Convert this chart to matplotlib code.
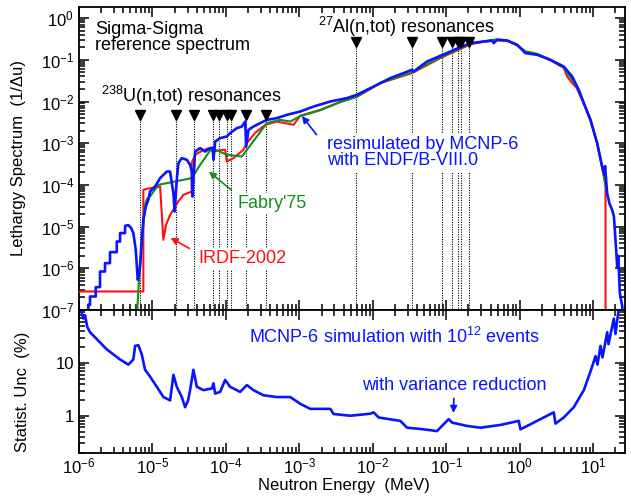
import numpy as np
import matplotlib
matplotlib.use('Agg')
import matplotlib.pyplot as plt
from matplotlib.ticker import LogLocator, FixedLocator, FixedFormatter, NullFormatter, LogFormatterSciNotation

plt.rcParams['font.family'] = ['Liberation Sans', 'DejaVu Sans']
plt.rcParams['mathtext.fontset'] = 'custom'
plt.rcParams['mathtext.rm'] = 'Liberation Sans'
plt.rcParams['mathtext.it'] = 'Liberation Sans:italic'
plt.rcParams['mathtext.default'] = 'regular'

# data, log10(E/MeV) and log10(value)
mcnp_logE = [-6.000, -5.946, -5.873, -5.873, -5.850, -5.850, -5.772, -5.772, -5.714, -5.714,
             -5.646, -5.646, -5.578, -5.578, -5.486, -5.486, -5.441, -5.441, -5.373, -5.373,
             -5.328, -5.292, -5.260, -5.228, -5.200, -5.183, -5.169, -5.146, -5.124, -5.091,
             -5.056, -5.033, -4.965, -4.896, -4.805, -4.760, -4.737, -4.715, -4.699, -4.669,
             -4.647, -4.601, -4.533, -4.488, -4.465, -4.456, -4.429, -4.420, -4.351, -4.283,
             -4.215, -4.182, -4.170, -4.147, -4.079, -3.988, -3.943, -3.851, -3.783, -3.738,
             -3.725, -3.693, -3.625, -3.534, -3.443, -3.307, -3.170, -2.989, -2.808, -2.580,
             -2.353, -2.217, -1.990, -1.763, -1.467, -1.446, -1.263, -1.082, -0.854, -0.673,
             -0.492, -0.378, -0.356, -0.309, -0.173, -0.037, 0.076, 0.236, 0.417, 0.598,
             0.712, 0.802, 0.871, 0.962, 1.053, 1.120, 1.150, 1.160, 1.188, 1.220,
             1.256, 1.280, 1.302, 1.325, 1.340, 1.361, 1.394, 1.411]
mcnp_logV = [-7.14, -7.04, -7.04, -6.875, -6.875, -6.676, -6.676, -6.451, -6.451, -6.077,
             -6.077, -5.875, -5.875, -5.612, -5.612, -5.357, -5.357, -5.156, -5.156, -4.981,
             -4.964, -5.03, -5.156, -5.556, -6.276, -6.155, -5.957, -5.317, -4.837, -4.518,
             -4.357, -4.158, -4.038, -3.837, -3.679, -3.679, -3.957, -4.197, -4.638, -3.878,
             -3.477, -3.357, -3.398, -3.518, -3.679, -4.278, -3.477, -3.199, -3.118, -3.199,
             -3.118, -3.110, -3.398, -2.959, -2.878, -2.839, -2.758, -2.638, -2.599, -2.480,
             -3.079, -2.679, -2.599, -2.518, -2.439, -2.398, -2.319, -2.240, -2.120, -2.000,
             -1.918, -1.839, -1.640, -1.439, -1.240, -1.281, -1.041, -0.904, -0.731, -0.600,
             -0.561, -0.537, -0.600, -0.520, -0.537, -0.640, -0.839, -0.880, -1.000, -1.161,
             -1.400, -1.719, -2.038, -2.439, -2.998, -3.559, -3.75, -3.55, -4.197, -4.45,
             -4.597, -4.75, -5.317, -5.957, -5.70, -6.595, -6.916, -7.19]

irdf_logE = [-6.000, -5.124, -5.124, -5.078, -4.896, -4.852, -4.815, -4.760, -4.715, -4.651,
             -4.579, -4.465, -4.465, -4.420, -4.351, -4.238, -4.170, -4.034, -4.011, -3.988,
             -3.898, -3.762, -3.717, -3.602, -3.466, -3.307, -3.080, -2.989, -2.717, -2.444,
             -2.217, -1.899, -1.467, -1.082, -0.854, -0.673, -0.492, -0.309, -0.173,
             -0.037, 0.076, 0.236, 0.417, 0.598, 0.644, 0.712, 0.771, 0.871, 0.962,
             1.053, 1.120, 1.166, 1.166]
irdf_logV = [-6.556, -6.556, -4.118, -4.094, -4.038, -5.317, -4.957, -4.717, -4.597, -4.405,
             -4.237, -4.158, -3.470, -3.278, -3.206, -3.118, -3.199, -3.158, -3.158, -3.439,
             -3.357, -3.158, -2.998, -2.751, -2.559, -2.480, -2.559, -2.340, -2.200, -2.007,
             -1.887, -1.559, -1.319, -0.959, -0.777, -0.628, -0.568, -0.532, -0.544,
             -0.652, -0.808, -0.868, -1.012, -1.192, -1.400, -1.559, -1.671, -2.055, -2.463,
             -3.014, -3.590, -3.998, -7.5]

fabry_logE = [-5.214, -5.192, -5.169, -5.146, -5.124, -5.101, -5.074, -5.033, -4.920, -4.692,
              -4.465, -4.351, -4.192, -3.988, -3.783, -3.443, -3.262, -3.125, -2.989, -2.717,
              -2.444, -2.217, -1.899, -1.467, -1.082, -0.854, -0.673, -0.492, -0.309, -0.173,
              -0.037, 0.076, 0.236, 0.417, 0.598, 0.649, 0.712, 0.771, 0.871, 0.962,
              1.053, 1.120, 1.178]
fabry_logV = [-7.23, -6.516, -5.916, -5.477, -4.957, -4.477, -4.333, -4.278, -3.998, -3.918,
              -3.837, -3.518, -3.118, -3.278, -3.319, -2.518, -2.439, -2.480, -2.350, -2.210,
              -2.015, -1.880, -1.552, -1.300, -0.940, -0.760, -0.616, -0.556, -0.508, -0.532,
              -0.640, -0.796, -0.856, -1.000, -1.192, -1.312, -1.480, -1.624, -2.043, -2.451,
              -3.002, -3.566, -4.117]

unc_logE = [-5.986, -5.973, -5.941, -5.918, -5.887, -5.850, -5.782, -5.714, -5.623, -5.533,
            -5.441, -5.328, -5.260, -5.237, -5.192, -5.146, -5.101, -5.033, -4.941, -4.851,
            -4.760, -4.715, -4.669, -4.601, -4.556, -4.515, -4.488, -4.443, -4.396, -4.307,
            -4.192, -4.170, -4.147, -4.079, -4.011, -3.943, -3.807, -3.715, -3.625, -3.489,
            -3.307, -3.125, -2.989, -2.853, -2.580, -2.535, -2.308, -2.035, -1.990, -1.922,
            -1.627, -1.535, -1.309, -1.127, -1.037, -0.969, -0.922, -0.718, -0.537, -0.264,
            -0.015, 0.008, 0.099, 0.281, 0.462, 0.485, 0.598, 0.734, 0.871, 0.962,
            1.030, 1.057, 1.098, 1.125, 1.189, 1.207, 1.279, 1.302, 1.347, 1.370]
unc_logU = [2.128, 1.998, 1.838, 1.901, 1.677, 1.580, 1.484, 1.387, 1.257, 1.161,
            1.064, 0.967, 1.064, 1.321, 1.335, 1.161, 0.870, 0.741, 0.547, 0.354,
            0.290, 0.774, 0.547, 0.354, 0.161, 0.290, 0.484, 0.870, 0.547, 0.484,
            0.516, 0.613, 0.420, 0.451, 0.677, 0.547, 0.451, 0.580, 0.484, 0.387,
            0.354, 0.354, 0.226, 0.130, 0.130, 0.033, 0.000, 0.039, 0.064, -0.033,
            -0.097, -0.226, -0.257, -0.290, -0.161, -0.064, -0.130, -0.193, -0.226, -0.174,
            -0.097, -0.257, -0.193, -0.064, 0.064, -0.149, -0.033, 0.161, 0.484, 0.838,
            1.128, 0.967, 1.321, 1.103, 1.580, 1.354, 1.838, 1.547, 2.031, 2.13]

u238_res = [6.67e-6, 2.09e-5, 3.67e-5, 6.6e-5, 8.07e-5, 1.025e-4, 1.169e-4, 1.897e-4, 3.478e-4]
al27_res = [5.9e-3, 3.45e-2, 8.8e-2, 0.120, 0.143, 0.158, 0.206]
u238_mark = 4.8e-3
al27_mark = 0.265

x_major = [1e-6, 1e-5, 1e-4, 1e-3, 1e-2, 1e-1, 1e0, 1e1]
y_major = [1e-7, 1e-6, 1e-5, 1e-4, 1e-3, 1e-2, 1e-1, 1e0]

E_mcnp = 10 ** np.array(mcnp_logE)
V_mcnp = 10 ** np.array(mcnp_logV)
E_irdf = 10 ** np.array(irdf_logE)
V_irdf = 10 ** np.array(irdf_logV)
E_fab = 10 ** np.array(fabry_logE)
V_fab = 10 ** np.array(fabry_logV)
E_unc = 10 ** np.array(unc_logE)
U_unc = 10 ** np.array(unc_logU)

blue = '#0a14ff'
red = '#ff1010'
green = '#10901a'

fig = plt.figure(figsize=(6.31, 4.96), dpi=100)
ax1 = fig.add_axes([0.1252, 0.375, 0.8653, 0.6109])
ax2 = fig.add_axes([0.1252, 0.0873, 0.8653, 0.2877], sharex=ax1)

# resonance markers
for e in u238_res:
    ax1.plot([e, e], [1e-8, u238_mark], ls=(0, (1, 1.2)), color='k', lw=0.8, zorder=1)
ax1.plot(u238_res, [u238_mark] * len(u238_res), 'v', color='k', ms=6.5, zorder=5)
for e in al27_res:
    ax1.plot([e, e], [1e-8, al27_mark], ls=(0, (1, 1.2)), color='k', lw=0.8, zorder=1)
ax1.plot(al27_res, [al27_mark] * len(al27_res), 'v', color='k', ms=6.5, zorder=5)

ax1.plot(E_irdf, V_irdf, color=red, lw=1.5, zorder=3)
ax1.plot(E_fab, V_fab, color=green, lw=1.5, zorder=3)
ax1.plot(E_mcnp, V_mcnp, color=blue, lw=1.9, zorder=4)

ax1.set_xscale('log')
ax1.set_yscale('log')
ax1.set_xlim(1e-6, 27)
ax1.set_ylim(1e-7, 1.85)
ax1.set_ylabel('Lethargy Spectrum  (1/\u0394u)', fontsize=12)
ax1.yaxis.set_label_coords(-0.097, 0.5)

bb = dict(facecolor='white', edgecolor='none', pad=1.5)
ax1.text(0.029, 0.955, 'Sigma-Sigma\nreference spectrum', transform=ax1.transAxes,
         fontsize=13, va='top', linespacing=0.95)
ax1.text(0.040, 0.687, '$^{238}$U(n,tot) resonances', transform=ax1.transAxes, fontsize=13)
ax1.text(0.438, 0.913, '$^{27}$Al(n,tot) resonances', transform=ax1.transAxes, fontsize=13)
ax1.text(0.454, 0.574, 'resimulated by MCNP-6\nwith ENDF/B-VIII.0', transform=ax1.transAxes,
         fontsize=13, va='top', color=blue, linespacing=0.95, bbox=bb, zorder=6)
ax1.text(0.291, 0.336, "Fabry'75", transform=ax1.transAxes, fontsize=13, color=green,
         bbox=bb, zorder=6)
ax1.text(0.219, 0.154, 'IRDF-2002', transform=ax1.transAxes, fontsize=13, color=red,
         bbox=bb, zorder=6)

ax1.annotate('', xy=(10**-2.989, 10**-2.295), xytext=(10**-2.744, 10**-2.847),
             arrowprops=dict(arrowstyle='-|>', color=blue, lw=1.2, mutation_scale=10), zorder=7)
ax1.annotate('', xy=(10**-4.261, 10**-3.638), xytext=(10**-3.902, 10**-4.158),
             arrowprops=dict(arrowstyle='-|>', color=green, lw=1.2, mutation_scale=10), zorder=7)
ax1.annotate('', xy=(10**-4.787, 10**-5.237), xytext=(10**-4.465, 10**-5.556),
             arrowprops=dict(arrowstyle='-|>', color=red, lw=1.2, mutation_scale=10), zorder=7)

# lower panel
ax2.plot(E_unc, U_unc, color=blue, lw=1.9)
ax2.set_yscale('log')
ax2.set_ylim(0.2, 100)
ax2.yaxis.set_major_locator(FixedLocator([1, 10]))
ax2.yaxis.set_major_formatter(FixedFormatter(['1', '10']))
ax2.yaxis.set_minor_locator(LogLocator(base=10, subs=np.arange(2, 10)))
ax2.yaxis.set_minor_formatter(NullFormatter())
ax2.set_ylabel('Statist. Unc  (%)', fontsize=12)
ax2.yaxis.set_label_coords(-0.090, 0.43)
ax2.set_xlabel('Neutron Energy  (MeV)', fontsize=12, labelpad=1, x=0.486)
ax2.text(0.312, 0.767, 'MCNP-6 simulation with 10$^{12}$ events', transform=ax2.transAxes,
         fontsize=13, color=blue)
ax2.text(0.519, 0.439, 'with variance reduction', transform=ax2.transAxes, fontsize=13, color=blue)
ax2.annotate('', xy=(0.1245, 1.0), xytext=(0.127, 2.4),
             arrowprops=dict(arrowstyle='-|>', color=blue, lw=1.2, mutation_scale=10))

ax1.xaxis.set_major_locator(FixedLocator(x_major))
ax1.xaxis.set_major_formatter(LogFormatterSciNotation())
ax1.xaxis.set_minor_locator(LogLocator(base=10, subs=np.arange(2, 10), numticks=20))
ax1.yaxis.set_major_locator(FixedLocator(y_major))
ax1.yaxis.set_major_formatter(LogFormatterSciNotation())
ax1.yaxis.set_minor_locator(LogLocator(base=10, subs=np.arange(2, 10), numticks=20))
ax1.yaxis.set_minor_formatter(NullFormatter())
ax1.tick_params(axis='x', labelbottom=False)

for ax in (ax1, ax2):
    ax.tick_params(which='both', direction='in', top=True, right=True, labelsize=12, width=1.1)
    ax.tick_params(which='major', length=7)
    ax.tick_params(which='minor', length=4)
    for s in ax.spines.values():
        s.set_linewidth(1.3)
ax2.tick_params(axis='x', pad=3)

fig.savefig('out.png', dpi=100)
